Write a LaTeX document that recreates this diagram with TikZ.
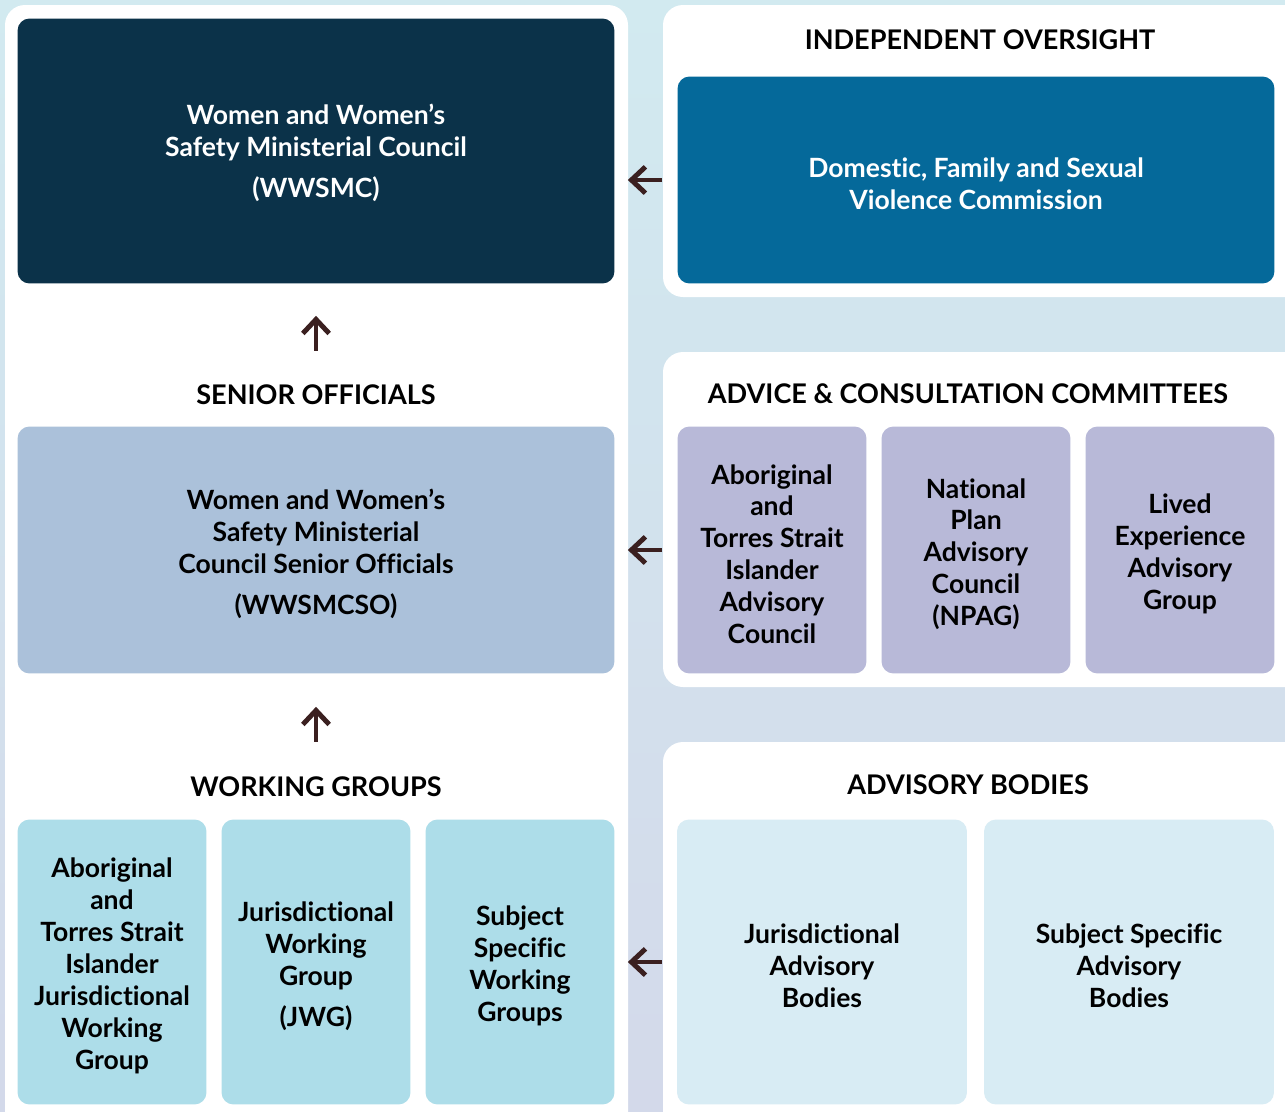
\documentclass[tikz,border=0pt]{standalone}
\usepackage{fontspec}
\setmainfont{Lato}[Ligatures=CommonOff]
\usepackage{tikz}
\usepackage{xcolor}
\usetikzlibrary{arrows.meta, positioning, calc}
\definecolor{councilcolor}{RGB}{11,50,73}
\definecolor{commcolor}{RGB}{5,105,154}
\definecolor{seniorcolor}{RGB}{171,193,218}
\definecolor{advicecolor}{RGB}{184,185,216}
\definecolor{workcolor}{RGB}{173,221,233}
\definecolor{bodycolor}{RGB}{216,236,244}
\definecolor{arrowcolor}{RGB}{59,32,32}
\definecolor{bgtop}{RGB}{210,234,240}
\definecolor{bgbottom}{RGB}{211,217,234}

\begin{document}
\begin{tikzpicture}[x=0.02cm, y=-0.02cm,
    box/.style={rounded corners=0.24cm, inner sep=0pt, align=center,
        font=\bfseries\fontsize{15.1}{18.2}\selectfont},
    bigbox/.style={box, minimum width=11.94cm},
    smallbox/.style={box, minimum width=3.78cm},
    widebox/.style={box, minimum width=5.8cm, minimum height=5.7cm, fill=bodycolor},
    heading/.style={font=\bfseries\fontsize{15.4}{18}\selectfont},
    arr/.style={-{Straight Barb[length=8pt, width=15pt]}, line width=2.8pt, arrowcolor}]
    \useasboundingbox (0,0) rectangle (1285,1112);

    % Fond
    \shade[top color=bgtop, bottom color=bgbottom] (0,0) rectangle (1285,1112);
    \fill[white, rounded corners=0.4cm] (5,5) rectangle (628,1135);
    \fill[white, rounded corners=0.4cm] (663,5) rectangle (1310,297);
    \fill[white, rounded corners=0.4cm] (663,352) rectangle (1310,687);
    \fill[white, rounded corners=0.4cm] (663,742) rectangle (1310,1135);

    % === CONSEIL MINISTERIEL (haut gauche) ===
    \node[bigbox, minimum height=5.3cm, fill=councilcolor, text=white] (wwsmc) at (316,151)
        {\rule{0pt}{14pt}Women and Women’s\\ Safety Ministerial Council\\[5pt] (WWSMC)};

    % === SURVEILLANCE INDEPENDANTE (haut droite) ===
    \node[heading] (hdov) at (980,40) {INDEPENDENT OVERSIGHT};
    \node[bigbox, minimum height=4.14cm, fill=commcolor, text=white] (comm) at (976,180)
        {\rule{0pt}{15pt}Domestic, Family and Sexual\\ Violence Commission};

    % Flèche
    \draw[arr] ($(comm.west)+(-15,0)$) -- ($(wwsmc.east |- comm.west)+(13,0)$);
    \draw[arr] ($(wwsmc.south)+(0,67)$) -- ($(wwsmc.south)+(0,32)$);

    % === HAUTS FONCTIONNAIRES ===
    \node[heading] (hdso) at (316,395) {SENIOR OFFICIALS};
    \node[bigbox, minimum height=4.94cm, fill=seniorcolor] (so) at (316,550)
        {\rule{0pt}{16pt}Women and Women’s\\ Safety Ministerial\\ Council Senior Officials\\[5pt] (WWSMCSO)};

    % === COMITES CONSULTATIFS ===
    \node[heading] (hdac) at (968,394) {ADVICE \& CONSULTATION COMMITTEES};
    \node[smallbox, minimum height=4.94cm, fill=advicecolor] (ac1) at (772,550)
        {\rule{0pt}{16pt}Aboriginal\\ and\\ Torres Strait\\ Islander\\ Advisory\\ Council};
    \node[smallbox, minimum height=4.94cm, fill=advicecolor] (ac2) at (976,550)
        {\rule{0pt}{16pt}National\\ Plan\\ Advisory\\ Council\\ (NPAG)};
    \node[smallbox, minimum height=4.94cm, fill=advicecolor] (ac3) at (1180,550)
        {\rule{0pt}{16pt}Lived\\ Experience\\ Advisory\\ Group};

    % Flèche
    \draw[arr] ($(ac1.west)+(-15,0)$) -- ($(so.east)+(13,0)$);
    \draw[arr] ($(so.south)+(0,68)$) -- ($(so.south)+(0,33)$);

    % === GROUPES DE TRAVAIL ===
    \node[heading] (hdwg) at (316,787) {WORKING GROUPS};
    \node[smallbox, minimum height=5.7cm, fill=workcolor] (wg1) at (112,962)
        {\rule{0pt}{16pt}Aboriginal\\ and\\ Torres Strait\\ Islander\\ Jurisdictional\\ Working\\ Group};
    \node[smallbox, minimum height=5.7cm, fill=workcolor] (wg2) at (316,962)
        {\rule{0pt}{16pt}Jurisdictional\\ Working\\ Group\\[5pt] (JWG)};
    \node[smallbox, minimum height=5.7cm, fill=workcolor] (wg3) at (520,962)
        {\rule{0pt}{16pt}Subject\\ Specific\\ Working\\ Groups};

    % === ORGANES CONSULTATIFS ===
    \node[heading] (hdab) at (968,785) {ADVISORY BODIES};
    \node[widebox] (ab1) at (822,962) {\rule{0pt}{16pt}Jurisdictional\\ Advisory\\ Bodies};
    \node[widebox] (ab2) at (1129,962) {\rule{0pt}{16pt}Subject Specific\\ Advisory\\ Bodies};

    % Flèche
    \draw[arr] ($(ab1.west)+(-15,0)$) -- ($(wg3.east)+(13,0)$);
\end{tikzpicture}
\end{document}
